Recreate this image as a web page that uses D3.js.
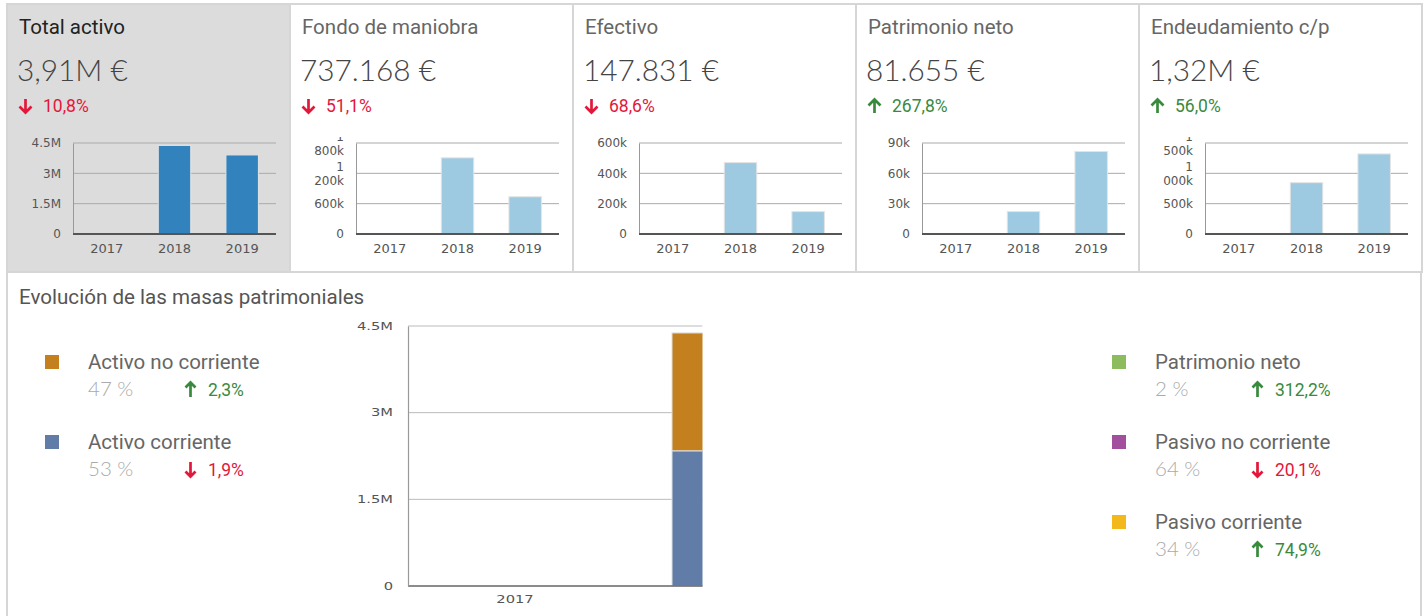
<!DOCTYPE html>
<html><head><meta charset="utf-8">
<script src="https://cdn.jsdelivr.net/npm/d3@7"></script>
<style>body{margin:0;background:#fff;overflow:hidden} svg{display:block}</style>
</head><body><svg id="c" width="1425" height="616"></svg>
<script>
// ---------- DATA ----------
const years = ["2017", "2018", "2019"];
const kpiTitles = ["Total activo", "Fondo de maniobra", "Efectivo", "Patrimonio neto", "Endeudamiento c/p"];
const kpiValues = ["3,91M €", "737.168 €", "147.831 €", "81.655 €", "1,32M €"];
const kpiChanges = [-10.8, -51.1, -68.6, 267.8, 56.0];
const totalActivo = [0, 4380000, 3910000];
const fondoManiobra = [0, 1507000, 737168];
const efectivo = [0, 470800, 147831];
const patrimonioNeto = [300, 22200, 81655];
const endeudamientoCP = [0, 846000, 1320000];
const kpiSeries = [totalActivo, fondoManiobra, efectivo, patrimonioNeto, endeudamientoCP];
const tickValsTotal = [0, 1500000, 3000000, 4500000];
const tickLabelsTotal = ["0", "1.5M", "3M", "4.5M"];
const tickValsFondo = [0, 600000, 1200000, 1800000];
const tickLabelsFondo = ["0", "600k", "1 200k", "1 800k"];
const tickValsEfectivo = [0, 200000, 400000, 600000];
const tickLabelsEfectivo = ["0", "200k", "400k", "600k"];
const tickValsPN = [0, 30000, 60000, 90000];
const tickLabelsPN = ["0", "30k", "60k", "90k"];
const tickValsEnd = [0, 500000, 1000000, 1500000];
const tickLabelsEnd = ["0", "500k", "1 000k", "1 500k"];
const kpiTickVals = [tickValsTotal, tickValsFondo, tickValsEfectivo, tickValsPN, tickValsEnd];
const kpiTickLabels = [tickLabelsTotal, tickLabelsFondo, tickLabelsEfectivo, tickLabelsPN, tickLabelsEnd];

// Evolución de las masas patrimoniales
const masasTitle = "Evolución de las masas patrimoniales";
const activoCorriente = [0, 2340000, 2070000];
const activoNoCorriente = [0, 2040000, 1840000];
const pnMasas = [0, 22200, 81655];
const pasivoNoCorriente = [0, 3510000, 2500000];
const pasivoCorriente = [0, 846000, 1330000];
const masasTickVals = [0, 1500000, 3000000, 4500000];
const masasTickLabels = ["0", "1.5M", "3M", "4.5M"];
const leftLegendNames = ["Activo no corriente", "Activo corriente"];
const leftLegendShares = ["47 %", "53 %"];
const leftLegendChanges = [2.3, -1.9];
const rightLegendNames = ["Patrimonio neto", "Pasivo no corriente", "Pasivo corriente"];
const rightLegendShares = ["2 %", "64 %", "34 %"];
const rightLegendChanges = [312.2, -20.1, 74.9];

// ---------- STYLE ----------
const RED = "#e3173a", GREEN = "#398a3d";
const colANC = "#c4801f", colAC = "#617ca6", colPN = "#8dbc5e", colPNC = "#a24f9e", colPC = "#f2b81c";
const FONT = "Roboto, 'Open Sans', sans-serif";
const LIGHTFONT = "Lato, Roboto, sans-serif";
const AXFONT = "'DejaVu Sans', Verdana, sans-serif";
const fmtPct = v => d3.format(".1f")(Math.abs(v)).replace(".", ",") + "%";

const svg = d3.select("#c");
const defs = svg.append("defs");

function arrow(g, x, y, up, color, w, h) {
  const cx = x + w / 2;
  const p = d3.path();
  if (up) {
    p.moveTo(cx, y + h); p.lineTo(cx, y + 1);
    p.moveTo(x + 0.5, y + w / 2); p.lineTo(cx, y + 0.5); p.lineTo(x + w - 0.5, y + w / 2);
  } else {
    p.moveTo(cx, y); p.lineTo(cx, y + h - 1);
    p.moveTo(x + 0.5, y + h - w / 2); p.lineTo(cx, y + h - 0.5); p.lineTo(x + w - 0.5, y + h - w / 2);
  }
  g.append("path").attr("d", p.toString()).attr("fill", "none")
    .attr("stroke", color).attr("stroke-width", 2.7);
}

// ---------- KPI PANELS ----------
const panelW = 283;
kpiTitles.forEach((title, i) => {
  const px = 7 + i * panelW;
  const bg = i === 0 ? "#dcdcdc" : "#fff";
  const g = svg.append("g");
  g.append("rect").attr("x", px).attr("y", 4).attr("width", panelW).attr("height", 268)
    .attr("fill", bg).attr("stroke", "#d6d6d6").attr("stroke-width", 2);
  g.append("text").attr("x", px + 12).attr("y", 34).text(title)
    .attr("font-family", FONT).attr("font-size", 20.5).attr("fill", i === 0 ? "#222" : "#666");
  g.append("text").attr("x", px + 10).attr("y", 81).text(kpiValues[i])
    .attr("font-family", LIGHTFONT).attr("font-weight", 300).attr("font-size", 29.8).attr("fill", "#444");
  const up = kpiChanges[i] > 0, col = up ? GREEN : RED;
  arrow(g, px + 12, 99, up, col, 13, 14);
  g.append("text").attr("x", px + 36).attr("y", 112).text(fmtPct(kpiChanges[i]))
    .attr("font-family", FONT).attr("font-size", 17.5).attr("fill", col);

  // mini chart
  const cid = "clip" + i;
  defs.append("clipPath").attr("id", cid).append("rect")
    .attr("x", px).attr("y", 137).attr("width", panelW).attr("height", 130);
  const cg = g.append("g").attr("clip-path", `url(#${cid})`);
  const left = px + 66, right = px + 269, top = 143, bottom = 234;
  const tv = kpiTickVals[i], tl = kpiTickLabels[i];
  const y = d3.scaleLinear().domain([0, tv[tv.length - 1]]).range([bottom, top]);
  const x = d3.scaleBand().domain(years).range([left, right]).paddingInner(0.52).paddingOuter(0.26);
  // grid
  cg.append("g").selectAll("line").data(tv.slice(1)).join("line")
    .attr("x1", left).attr("x2", right).attr("y1", d => y(d)).attr("y2", d => y(d))
    .attr("stroke", "#aaa").attr("stroke-width", 1);
  // bars
  cg.append("g").selectAll("rect").data(kpiSeries[i]).join("rect")
    .attr("x", (d, j) => x(years[j])).attr("width", x.bandwidth())
    .attr("y", d => y(d)).attr("height", d => bottom - y(d))
    .attr("fill", i === 0 ? "#3182bd" : "#9ecae1").attr("stroke", "#e4e4e4").attr("stroke-width", 1);
  // y axis
  const ya = cg.append("g").attr("transform", `translate(${left},0)`)
    .call(d3.axisLeft(y).tickValues(tv).tickSize(0).tickPadding(12).tickFormat((d, j) => tl[j]));
  ya.select(".domain").attr("stroke", "#999");
  ya.selectAll("text").attr("font-family", AXFONT).attr("font-size", 12).attr("fill", "#555")
    .each(function (d, j) {
      const s = tl[j];
      if (s.indexOf(" ") >= 0) {
        const parts = s.split(" ");
        const t = d3.select(this).text(null).attr("dy", null);
        t.append("tspan").attr("x", -12).attr("y", -3).text(parts[0]);
        t.append("tspan").attr("x", -12).attr("y", 11.3).text(parts[1]);
      }
    });
  // x axis
  const xa = cg.append("g").attr("transform", `translate(0,${bottom})`)
    .call(d3.axisBottom(x).tickSize(0).tickPadding(10));
  xa.select(".domain").attr("stroke", "#555").attr("stroke-width", 2)
    .attr("d", `M${left},0H${right}`);
  xa.selectAll("text").attr("font-family", AXFONT).attr("font-size", 13).attr("fill", "#555");
});

// ---------- BOTTOM PANEL ----------
svg.append("rect").attr("x", 7).attr("y", 272).attr("width", 1414).attr("height", 360)
  .attr("fill", "#fff").attr("stroke", "#d6d6d6").attr("stroke-width", 2);
svg.append("text").attr("x", 19).attr("y", 304).text(masasTitle)
  .attr("font-family", FONT).attr("font-size", 20.6).attr("fill", "#555");

function legend(names, shares, changes, colors, sx, lx, ax) {
  names.forEach((n, j) => {
    const by = 369 + j * 80;
    const g = svg.append("g");
    g.append("rect").attr("x", sx).attr("y", by - 14).attr("width", 14).attr("height", 14).attr("fill", colors[j]);
    g.append("text").attr("x", lx).attr("y", by).text(n)
      .attr("font-family", FONT).attr("font-size", 20.5).attr("fill", "#666");
    g.append("text").attr("x", lx).attr("y", by + 27).text(shares[j])
      .attr("font-family", LIGHTFONT).attr("font-weight", 300).attr("font-size", 20.5).attr("fill", "#aaa");
    const up = changes[j] > 0, col = up ? GREEN : RED;
    arrow(g, ax, by + 13, up, col, 11, 15);
    g.append("text").attr("x", ax + 23).attr("y", by + 27).text(fmtPct(changes[j]))
      .attr("font-family", FONT).attr("font-size", 17.5).attr("fill", col);
  });
}
legend(leftLegendNames, leftLegendShares, leftLegendChanges, [colANC, colAC], 45, 88, 185);
legend(rightLegendNames, rightLegendShares, rightLegendChanges, [colPN, colPNC, colPC], 1112, 1155, 1252);

// center stacked chart
const mLeft = 408, mTop = 326, mBottom = 586, mClipRight = 702.5, bandW = 214, SX = 1.47;
const my = d3.scaleLinear().domain([0, 4500000]).range([mBottom, mTop]);
const mx = d3.scaleBand().domain(years).range([mLeft, mLeft + bandW * years.length]);
const inner = d3.scaleBand().domain(["activo", "pasivo"]).range([0, bandW]).paddingInner(0.21875).paddingOuter(0.78125);
defs.append("clipPath").attr("id", "mclip").append("rect")
  .attr("x", mLeft - 2).attr("y", 300).attr("width", mClipRight - mLeft + 2).attr("height", 316);
const mg = svg.append("g").attr("clip-path", "url(#mclip)");
mg.append("g").selectAll("line").data(masasTickVals.slice(1)).join("line")
  .attr("x1", mLeft).attr("x2", mClipRight).attr("y1", d => my(d)).attr("y2", d => my(d))
  .attr("stroke", "#bbb").attr("stroke-width", 1);

const activoStack = d3.stack().keys([0, 1])(years.map((yr, j) => [activoCorriente[j], activoNoCorriente[j]]));
const pasivoStack = d3.stack().keys([0, 1, 2])(years.map((yr, j) => [pnMasas[j], pasivoNoCorriente[j], pasivoCorriente[j]]));
const drawStack = (stack, key, colors) => {
  stack.forEach((layer, li) => {
    mg.append("g").selectAll("rect").data(layer).join("rect")
      .attr("x", (d, j) => mx(years[j]) + inner(key)).attr("width", inner.bandwidth())
      .attr("y", d => my(d[1])).attr("height", d => my(d[0]) - my(d[1]))
      .attr("fill", colors[li]).attr("stroke", "#e0e0e0").attr("stroke-width", 1);
  });
};
drawStack(activoStack, "activo", [colAC, colANC]);
drawStack(pasivoStack, "pasivo", [colPN, colPNC, colPC]);

const mya = svg.append("g").attr("transform", `translate(${mLeft},0)`)
  .call(d3.axisLeft(my).tickValues(masasTickVals).tickSize(0).tickPadding(15).tickFormat((d, j) => masasTickLabels[j]));
mya.select(".domain").attr("stroke", "#999").attr("stroke-width", 1.2);
mya.selectAll("text").attr("font-family", AXFONT).attr("font-size", 10).attr("fill", "#555")
  .attr("x", -15 / SX).attr("transform", `scale(${SX},1)`);
const mxa = mg.append("g").attr("transform", `translate(0,${mBottom})`)
  .call(d3.axisBottom(mx).tickSize(0).tickPadding(10));
mxa.select(".domain").attr("stroke", "#666").attr("stroke-width", 1.5)
  .attr("d", `M${mLeft},0H${mLeft + bandW * years.length}`);
mxa.selectAll("text").attr("font-family", AXFONT).attr("font-size", 10).attr("fill", "#555")
  .attr("transform", `scale(${SX},1)`);
</script></body></html>
